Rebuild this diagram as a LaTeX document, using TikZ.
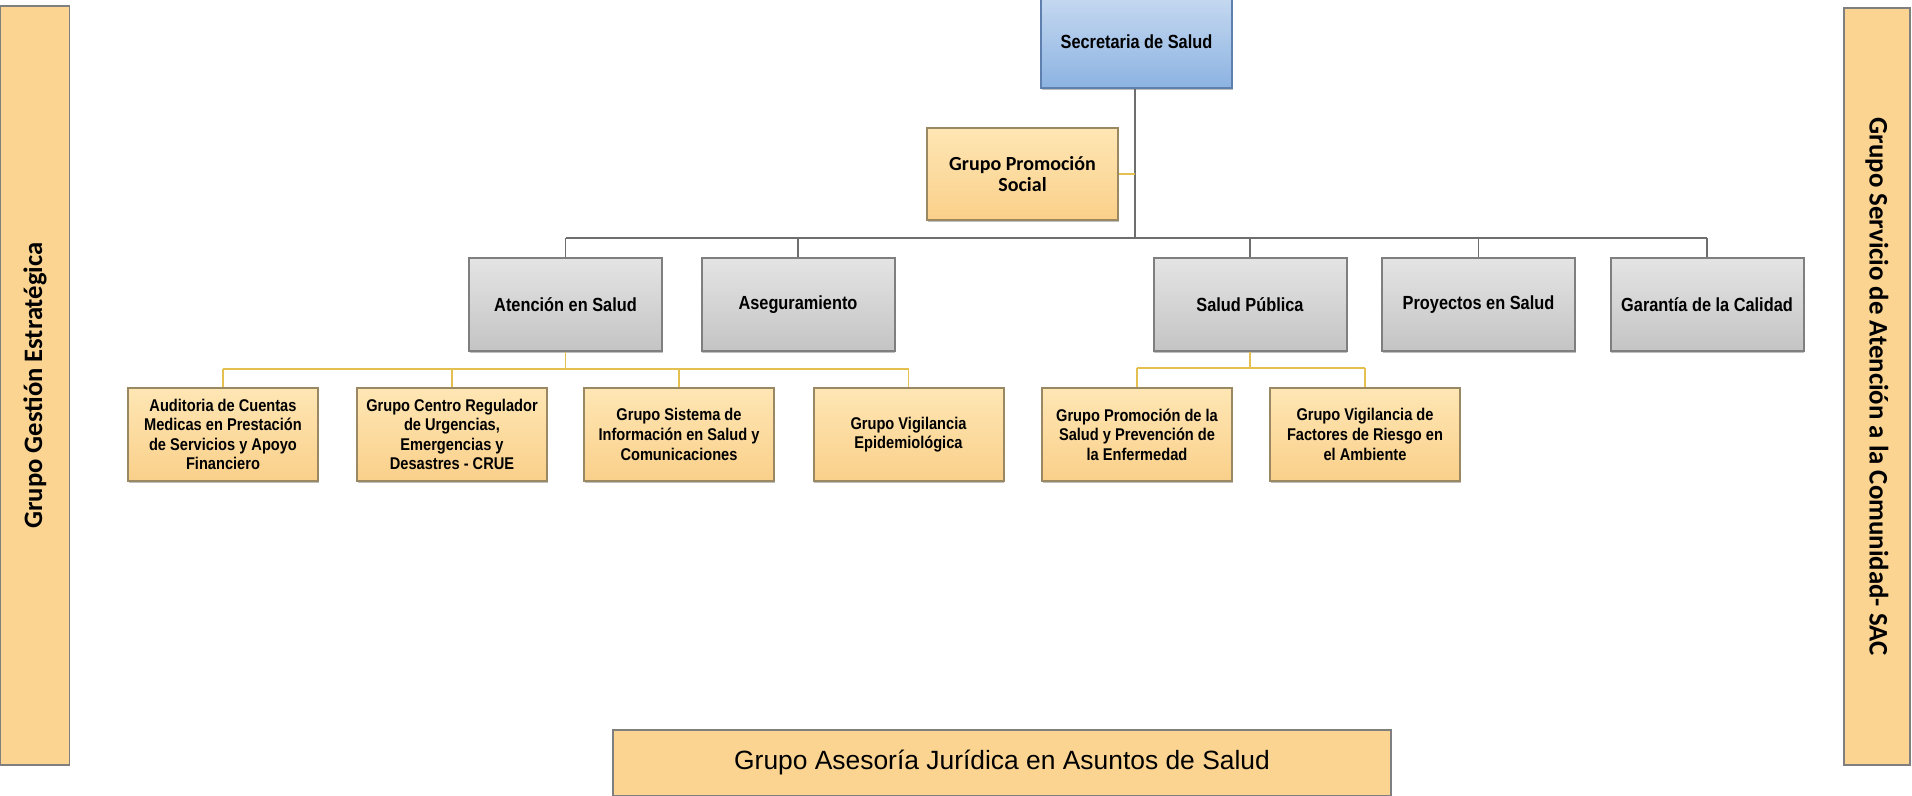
\documentclass[tikz,border=0pt]{standalone}
\usepackage{fontspec}
\setmainfont{Liberation Sans}
\newfontfamily\nar[FakeStretch=0.86]{Liberation Sans}
\newfontfamily\calfont{Carlito}
\usetikzlibrary{shadows}
\definecolor{yfillT}{HTML}{FEE6B4}
\definecolor{yfillB}{HTML}{FAD08A}
\definecolor{gfillT}{HTML}{E4E4E4}
\definecolor{gfillB}{HTML}{C4C4C4}
\definecolor{bfillT}{HTML}{C6D9F0}
\definecolor{bfillB}{HTML}{8CB3E2}
\definecolor{gbdr}{HTML}{7F7F7F}
\definecolor{ybdr}{HTML}{9A8862}
\definecolor{bbdr}{HTML}{5F7FAF}
\definecolor{glin}{HTML}{6E6E6E}
\definecolor{ylin}{HTML}{E3C050}
\tikzset{
  boxbase/.style={draw, line width=1pt, align=center, inner sep=1pt,
    drop shadow={shadow xshift=0.4pt, shadow yshift=-1.2pt, opacity=0.5}},
  secbox/.style={boxbase, draw=bbdr, top color=bfillT, bottom color=bfillB,
    minimum width=95.5pt, minimum height=46pt, font=\nar\bfseries\fontsize{9.5}{11}\selectfont},
  graybox/.style={boxbase, draw=gbdr, top color=gfillT, bottom color=gfillB,
    minimum width=96.5pt, minimum height=46.5pt, font=\nar\bfseries\fontsize{9.5}{11}\selectfont},
  ybox/.style={boxbase, draw=ybdr, top color=yfillT, bottom color=yfillB,
    minimum width=95pt, minimum height=46.5pt, font=\nar\bfseries\fontsize{8.5}{9.8}\selectfont},
  sidebox/.style={draw=gbdr, line width=0.8pt, fill=yfillB!80!yfillT, inner sep=0pt},
  gline/.style={draw=glin, line width=0.8pt},
  yline/.style={draw=ylin, line width=0.9pt},
}
\begin{document}
\begin{tikzpicture}[x=0.5pt,y=-0.5pt]
\clip (0,0) rectangle (1912,796);
\useasboundingbox (0,0) rectangle (1912,796);
% side and bottom boxes
\node[sidebox, minimum width=34.5pt, minimum height=379.5pt] (gge) at (35,385.5) {};
\node[rotate=90, font=\calfont\bfseries\fontsize{13.3}{15}\selectfont] (ggeT) at (gge.center) {Grupo Gestión Estratégica};
\node[sidebox, minimum width=33pt, minimum height=378.5pt] (sac) at (1877,386.5) {};
\node[rotate=-90, font=\calfont\bfseries\fontsize{13.4}{15}\selectfont] (sacT) at (sac.center) {Grupo Servicio de Atención a la Comunidad- SAC};
\node[sidebox, minimum width=389pt, minimum height=33pt, font=\fontsize{13.2}{15}\selectfont] (jur) at (1002,763) {Grupo Asesoría Jurídica en Asuntos de Salud};
% top
\node[secbox] (sec) at (1136.5,42) {Secretaria de Salud};
\node[ybox, minimum width=95.5pt, minimum height=46pt, font=\calfont\bfseries\fontsize{10}{10.5}\selectfont] (psoc) at (1022.5,174) {Grupo Promoción\\Social};
% gray level
\node[graybox] (aten) at (565.5,304.5) {Atención en Salud};
\node[graybox] (aseg) at (798,304.5) {Aseguramiento};
\node[graybox] (spub) at (1250,304.5) {Salud Pública};
\node[graybox] (proy) at (1478.5,304.5) {Proyectos en Salud};
\node[graybox] (gar) at (1707,304.5) {Garantía de la Calidad};
% children
\node[ybox] (aud) at (223,434.5) {Auditoria de Cuentas\\Medicas en Prestación\\de Servicios y Apoyo\\Financiero};
\node[ybox] (crue) at (452,434.5) {Grupo Centro Regulador\\de Urgencias,\\Emergencias y\\Desastres - CRUE};
\node[ybox] (sis) at (679,434.5) {Grupo Sistema de\\Información en Salud y\\Comunicaciones};
\node[ybox] (vep) at (908.5,434.5) {Grupo Vigilancia\\Epidemiológica};
\node[ybox] (pps) at (1137,434.5) {Grupo Promoción de la\\Salud y Prevención de\\la Enfermedad};
\node[ybox] (vfr) at (1365,434.5) {Grupo Vigilancia de\\Factores de Riesgo en\\el Ambiente};
% connectors
\coordinate (b1) at (1135,238);
\coordinate (b2) at (565,369);
\coordinate (b3) at (1250,368);
\draw[gline] (sec.south -| b1) -- (b1);
\draw[yline] (psoc.east) -- (psoc.east -| b1);
\draw[gline] (aten.north |- b1) -- (gar.north |- b1);
\foreach \n in {aten,aseg,spub,proy,gar}{\draw[gline] (\n.north) -- (\n.north |- b1);}
\draw[yline] (aten.south) -- (aten.south |- b2);
\draw[yline] (aud.north |- b2) -- (vep.north |- b2);
\foreach \n in {aud,crue,sis,vep}{\draw[yline] (\n.north) -- (\n.north |- b2);}
\draw[yline] (spub.south) -- (spub.south |- b3);
\draw[yline] (pps.north |- b3) -- (vfr.north |- b3);
\foreach \n in {pps,vfr}{\draw[yline] (\n.north) -- (\n.north |- b3);}
\end{tikzpicture}
\end{document}
